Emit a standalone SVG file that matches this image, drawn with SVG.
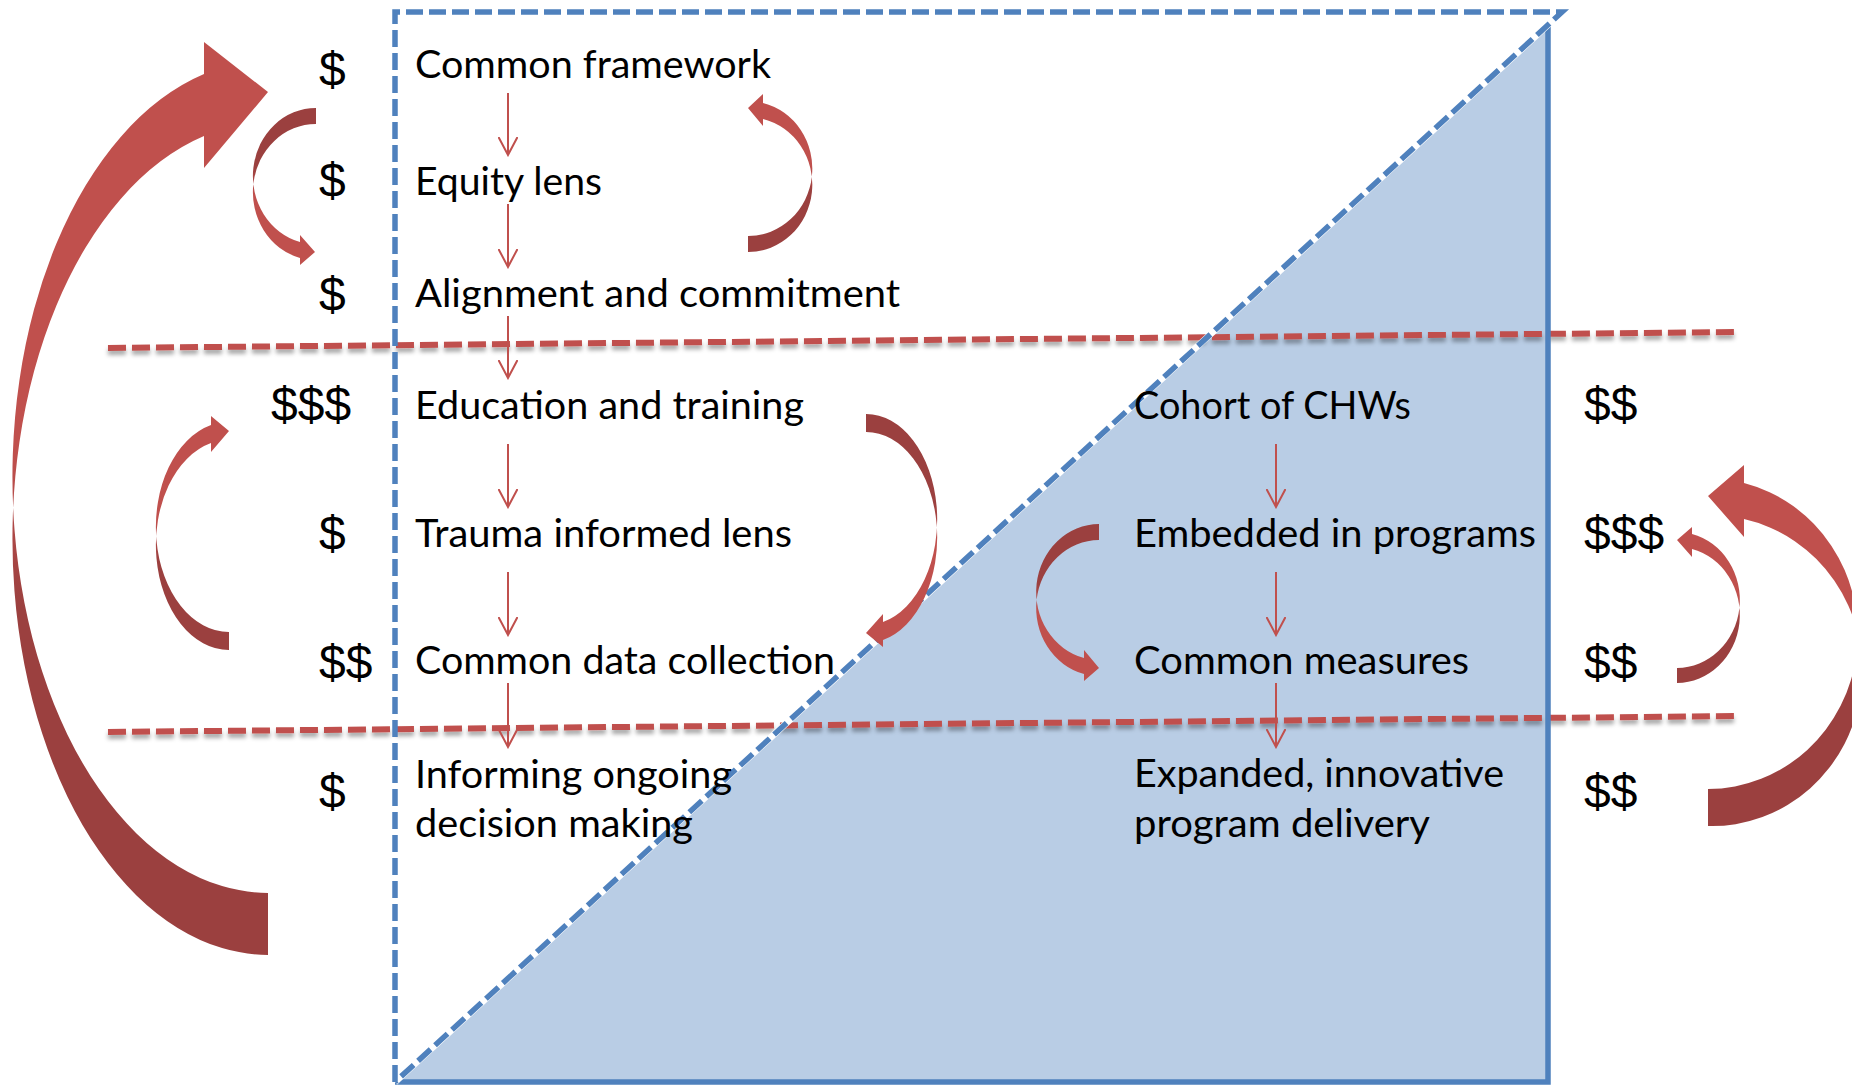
<svg xmlns="http://www.w3.org/2000/svg" width="1852" height="1085" viewBox="0 0 1852 1085">
<defs>
<linearGradient id="gTop" x1="0" y1="0" x2="0" y2="1">
<stop offset="0" stop-color="#C0504D"/><stop offset="0.45" stop-color="#C0504D"/><stop offset="0.62" stop-color="#9B403F"/><stop offset="1" stop-color="#9B403F"/>
</linearGradient>
<linearGradient id="gBot" x1="0" y1="1" x2="0" y2="0">
<stop offset="0" stop-color="#C0504D"/><stop offset="0.45" stop-color="#C0504D"/><stop offset="0.62" stop-color="#9B403F"/><stop offset="1" stop-color="#9B403F"/>
</linearGradient>
<filter id="sh" filterUnits="userSpaceOnUse" x="0" y="0" width="1852" height="1085">
<feDropShadow dx="0" dy="4" stdDeviation="2" flood-color="#000" flood-opacity="0.35"/>
</filter>
<marker id="v" viewBox="0 0 20 20" refX="18" refY="10" markerWidth="20" markerHeight="20" markerUnits="userSpaceOnUse" orient="auto">
<path d="M0,0.5 L18,10 L0,19.5" fill="none" stroke="#C0504D" stroke-width="2"/>
</marker>
</defs>
<style>
.lbl{font-family:Lato,"Liberation Sans",sans-serif;font-size:39px;fill:#000}
.usd{font-family:"Liberation Sans",Arial,sans-serif;font-size:48px;fill:#000}
.sep{stroke:#C0504D;stroke-width:6;stroke-dasharray:18 6;fill:none}
.thin{stroke:#C0504D;stroke-width:2;fill:none;marker-end:url(#v)}
.blue{stroke:#4F81BD;stroke-width:5.5;fill:none}
</style>
<rect width="1852" height="1085" fill="#fff"/>
<g id="background">
<polygon points="395,1082 1548,25 1548,1082" fill="#B9CDE5"/>
<g filter="url(#sh)">
<line class="sep" x1="108" y1="348" x2="1739" y2="332"/>
<line class="sep" x1="108" y1="732" x2="1739" y2="716"/>
</g>
<path class="blue" d="M1548 25 L1548 1082 L395 1082"/>
<line x1="1562" y1="12" x2="395" y2="1082" stroke="#fff" stroke-width="6.5"/>
<path class="blue" d="M395 1082 L395 12 L1562 12 L395 1082" stroke-dasharray="17 6"/>
</g>
<g id="connectors">
<path id="loop-big-left" fill="url(#gTop)" d="M268 92 L204 42 L204 74 A256 416.2 0 0 0 268 893 L268 955 A256 416.2 0 0 1 204 136 L204 168 Z"/>
<path id="loop-small-left" fill="url(#gBot)" d="M315 252 L300 235 L300 242 A63 68.1 0 0 1 316 108 L316 124 A63 68.1 0 0 0 300 258 L300 265 Z"/>
<path id="loop-small-top-right" fill="url(#gTop)" d="M748 108 L763 94 L763 103 A64 67.4 0 0 1 748 236 L748 252 A64 67.4 0 0 0 763 119 L763 126 Z"/>
<path id="loop-mid-left" fill="url(#gTop)" d="M229 431 L211 416 L211 425 A73 105.1 0 0 0 229 632 L229 650 A73 105.1 0 0 1 211 443 L211 452 Z"/>
<path id="loop-mid-right" fill="url(#gBot)" d="M866 633 L883 614 L883 622 A71 105.5 0 0 0 866 414 L866 432 A71 105.5 0 0 1 883 640 L883 647 Z"/>
<path id="loop-blue" fill="url(#gBot)" d="M1099 668 L1084 650 L1084 658 A63 68 0 0 1 1099 524 L1099 540 A63 68 0 0 0 1084 674 L1084 681 Z"/>
<path id="loop-small-right" fill="url(#gTop)" d="M1677 540 L1692 527 L1692 534 A63 68 0 0 1 1677 668 L1677 683 A63 68 0 0 0 1692 549 L1692 557 Z"/>
<path id="loop-big-right" fill="url(#gTop)" d="M1708 496 L1744 465 L1744 483 A150 155.3 0 0 1 1708 789 L1708 826 A150 155.3 0 0 0 1744 519 L1744 537 Z"/>
<line class="thin" x1="508" y1="93" x2="508" y2="155"/>
<line class="thin" x1="508" y1="204" x2="508" y2="267"/>
<line class="thin" x1="508" y1="316" x2="508" y2="378"/>
<line class="thin" x1="508" y1="444" x2="508" y2="507"/>
<line class="thin" x1="508" y1="572" x2="508" y2="635"/>
<line class="thin" x1="508" y1="683" x2="508" y2="747"/>
<line class="thin" x1="1276" y1="444" x2="1276" y2="507"/>
<line class="thin" x1="1276" y1="572" x2="1276" y2="635"/>
<line class="thin" x1="1276" y1="683" x2="1276" y2="747"/>
</g>
<g id="common-framework"><text class="lbl" x="415" y="78" textLength="356" lengthAdjust="spacingAndGlyphs">Common framework</text></g>
<g id="equity-lens"><text class="lbl" x="415" y="195" textLength="187" lengthAdjust="spacingAndGlyphs">Equity lens</text></g>
<g id="alignment"><text class="lbl" x="415" y="307" textLength="485" lengthAdjust="spacingAndGlyphs">Alignment and commitment</text></g>
<g id="education"><text class="lbl" x="415" y="419" textLength="389" lengthAdjust="spacingAndGlyphs">Education and training</text></g>
<g id="trauma"><text class="lbl" x="415" y="547" textLength="377" lengthAdjust="spacingAndGlyphs">Trauma informed lens</text></g>
<g id="data-collection"><text class="lbl" x="415" y="674" textLength="420" lengthAdjust="spacingAndGlyphs">Common data collection</text></g>
<g id="informing"><text class="lbl" x="415" y="788" textLength="317" lengthAdjust="spacingAndGlyphs">Informing ongoing</text><text class="lbl" x="415" y="837" textLength="278" lengthAdjust="spacingAndGlyphs">decision making</text></g>
<g id="cohort"><text class="lbl" x="1134" y="419" textLength="277" lengthAdjust="spacingAndGlyphs">Cohort of CHWs</text></g>
<g id="embedded"><text class="lbl" x="1134" y="547" textLength="402" lengthAdjust="spacingAndGlyphs">Embedded in programs</text></g>
<g id="common-measures"><text class="lbl" x="1134" y="674" textLength="335" lengthAdjust="spacingAndGlyphs">Common measures</text></g>
<g id="expanded"><text class="lbl" x="1134" y="787" textLength="370" lengthAdjust="spacingAndGlyphs">Expanded, innovative</text><text class="lbl" x="1134" y="837" textLength="296" lengthAdjust="spacingAndGlyphs">program delivery</text></g>
<g id="cost-left">
<text class="usd" x="319" y="86">$</text>
<text class="usd" x="319" y="197">$</text>
<text class="usd" x="319" y="311">$</text>
<text class="usd" x="271" y="421">$$$</text>
<text class="usd" x="319" y="550">$</text>
<text class="usd" x="319" y="679">$$</text>
<text class="usd" x="319" y="808">$</text>
</g>
<g id="cost-right">
<text class="usd" x="1584" y="421">$$</text>
<text class="usd" x="1584" y="550">$$$</text>
<text class="usd" x="1584" y="679">$$</text>
<text class="usd" x="1584" y="808">$$</text>
</g>
</svg>
